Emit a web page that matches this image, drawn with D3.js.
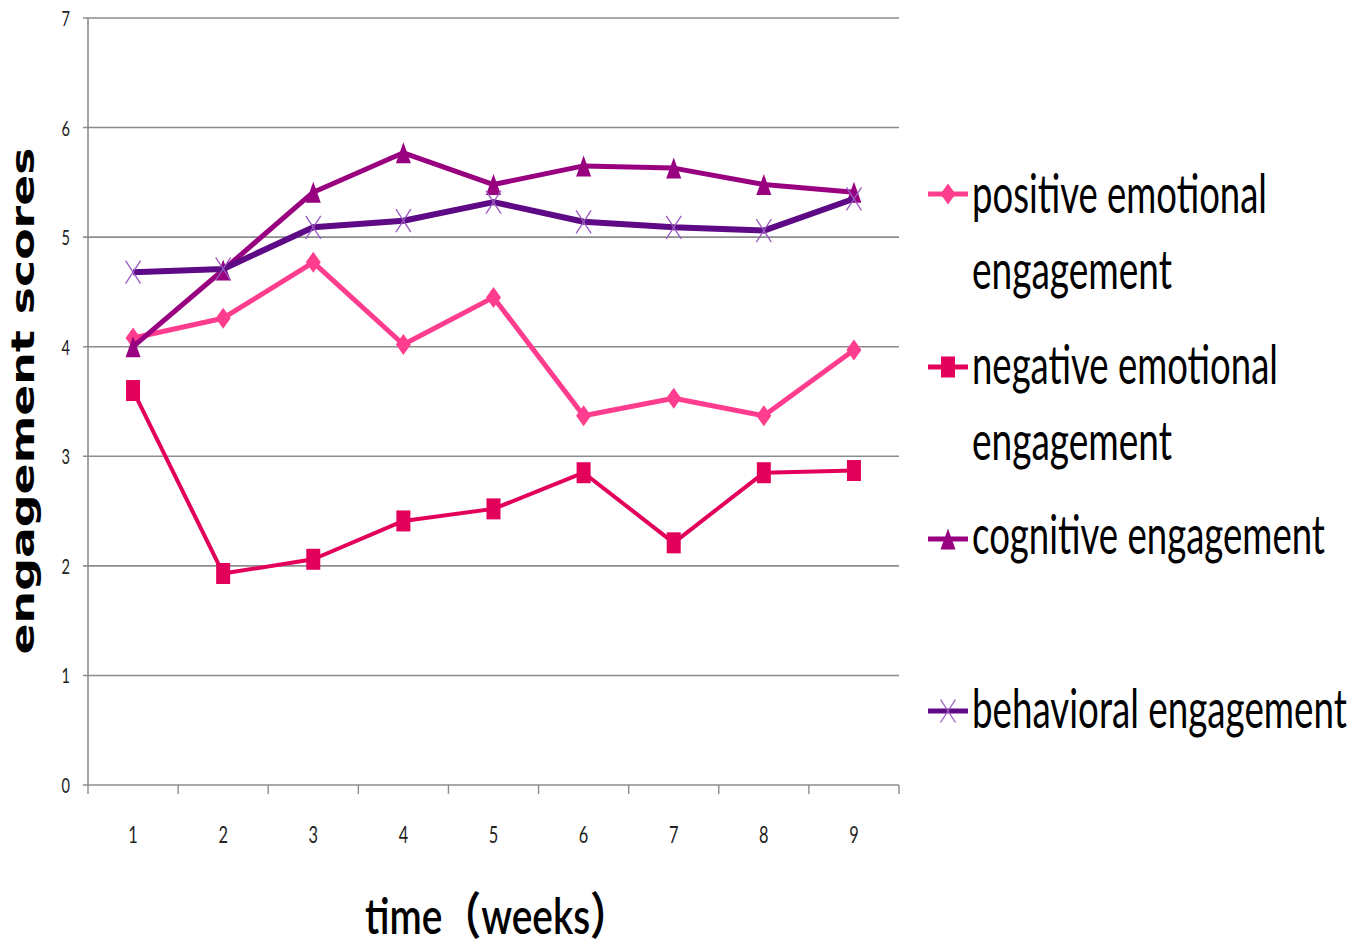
<!DOCTYPE html>
<html>
<head>
<meta charset="utf-8">
<script src="https://cdn.jsdelivr.net/npm/d3@7"></script>
<style>
  html, body { margin: 0; padding: 0; background: #fff; }
  svg { display: block; }
</style>
</head>
<body>
<svg id="chart" width="1354" height="947"></svg>
<script>
// Weekly engagement scores, weeks 1–9
const weeks = ["1", "2", "3", "4", "5", "6", "7", "8", "9"];
const yTicks = [0, 1, 2, 3, 4, 5, 6, 7];

const positiveEmotional = [4.08, 4.26, 4.77, 4.02, 4.45, 3.37, 3.53, 3.37, 3.97];
const negativeEmotional = [3.60, 1.93, 2.06, 2.41, 2.52, 2.85, 2.21, 2.85, 2.87];
const cognitive         = [4.00, 4.70, 5.41, 5.77, 5.48, 5.65, 5.63, 5.48, 5.41];
const behavioral        = [4.68, 4.71, 5.09, 5.15, 5.32, 5.14, 5.09, 5.06, 5.35];

const seriesNames = [
  ["positive emotional", "engagement"],
  ["negative emotional", "engagement"],
  ["cognitive engagement"],
  ["behavioral engagement"]
];

const series = [
  { lines: seriesNames[0], values: positiveEmotional, color: "#ff3d8e", marker: "diamond",  markerColor: "#ff3d8e", width: 5 },
  { lines: seriesNames[1], values: negativeEmotional, color: "#e2005a", marker: "square",   markerColor: "#e2005a", width: 4 },
  { lines: seriesNames[2], values: cognitive,         color: "#990080", marker: "triangle", markerColor: "#990080", width: 5 },
  { lines: seriesNames[3], values: behavioral,        color: "#5e0a86", marker: "cross",    markerColor: "#9a5ac0", width: 6 }
];

const svg = d3.select("#chart");
const plot = { left: 88, right: 899, top: 18, bottom: 785 };

const x = d3.scaleBand().domain(weeks).range([plot.left, plot.right]);
const y = d3.scaleLinear().domain([0, 7]).range([plot.bottom, plot.top]);
const cx = d => x(d) + x.bandwidth() / 2;

const gridColor = "#8c8c8c";
const textFont = "Lato, 'Open Sans', 'Liberation Sans', sans-serif";

// Place a text at (px, py), squeezed horizontally so it spans `width` pixels
function condensedText(parent, str, px, py, width, opts) {
  const t = parent.append("text")
    .attr("font-family", opts.family || textFont)
    .attr("font-size", opts.size)
    .attr("font-weight", opts.weight || "normal")
    .attr("fill", opts.fill || "#000")
    .attr("text-anchor", opts.anchor || "start")
    .text(str);
  const natural = t.node().getComputedTextLength();
  const sx = natural > 0 ? width / natural : 1;
  t.attr("transform", `translate(${px},${py}) ${opts.rotate ? `rotate(${opts.rotate})` : ""} scale(${sx},1)`);
  return t;
}

// Horizontal gridlines with short left ticks
svg.append("g").selectAll("line")
  .data(yTicks)
  .join("line")
  .attr("x1", plot.left - 5)
  .attr("x2", plot.right)
  .attr("y1", d => y(d))
  .attr("y2", d => y(d))
  .attr("stroke", gridColor)
  .attr("stroke-width", 1.6);

// Vertical axis line
svg.append("line")
  .attr("x1", plot.left).attr("x2", plot.left)
  .attr("y1", y(7)).attr("y2", y(0))
  .attr("stroke", gridColor).attr("stroke-width", 1.6);

// Category boundary ticks below the x axis
const boundaries = weeks.map(w => x(w)).concat([plot.right]);
svg.append("g").selectAll("line")
  .data(boundaries)
  .join("line")
  .attr("x1", d => d).attr("x2", d => d)
  .attr("y1", y(0)).attr("y2", y(0) + 9)
  .attr("stroke", gridColor).attr("stroke-width", 1.4);

// Y tick labels
const yLabels = svg.append("g");
yTicks.forEach(v => {
  condensedText(yLabels, String(v), 70, y(v) + 8, 8.5, { size: 21, anchor: "end", fill: "#222" });
});

// X tick labels
const xLabels = svg.append("g");
weeks.forEach(w => {
  condensedText(xLabels, w, cx(w), 843, 9.5, { size: 24, anchor: "middle", fill: "#222" });
});

// Axis titles
condensedText(svg, "engagement scores", 34, 401, 507, {
  family: "'DejaVu Sans', Verdana, sans-serif", weight: "bold", size: 32, anchor: "middle", rotate: -90
});

condensedText(svg, "time（weeks）", 365, 934, 264, {
  family: "Lato, 'Noto Sans CJK SC', sans-serif", weight: "600", size: 50
});

// Marker shapes, slightly taller than wide
function markerPath(type, w, h) {
  const hw = w / 2, hh = h / 2;
  switch (type) {
    case "diamond":  return `M0,${-hh}L${hw},0L0,${hh}L${-hw},0Z`;
    case "square":   return `M${-hw},${-hh}H${hw}V${hh}H${-hw}Z`;
    case "triangle": return `M0,${-hh}L${hw},${hh}L${-hw},${hh}Z`;
    case "cross":    return `M${-hw},${-hh}L${hw},${hh}M${hw},${-hh}L${-hw},${hh}`;
  }
}
const markerSize = {
  diamond: [15, 21],
  square: [14, 21],
  triangle: [15, 21],
  cross: [15, 23]
};

function drawMarker(g, s, px, py) {
  const [w, h] = markerSize[s.marker];
  const p = g.append("path")
    .attr("d", markerPath(s.marker, w, h))
    .attr("transform", `translate(${px},${py})`);
  if (s.marker === "cross") {
    p.attr("fill", "none").attr("stroke", s.markerColor).attr("stroke-width", 1.3);
  } else {
    p.attr("fill", s.markerColor);
  }
}

const line = d3.line()
  .x((d, i) => cx(weeks[i]))
  .y(d => y(d));

// Series lines and markers
series.forEach(s => {
  const g = svg.append("g");
  g.append("path")
    .datum(s.values)
    .attr("d", line)
    .attr("fill", "none")
    .attr("stroke", s.color)
    .attr("stroke-width", s.width)
    .attr("stroke-linejoin", "round");
  s.values.forEach((v, i) => drawMarker(g, s, cx(weeks[i]), y(v)));
});

// Legend
const legendRows = [
  { markerY: 194, baselines: [213, 289], widths: [295, 200] },
  { markerY: 367, baselines: [384, 460], widths: [306, 200] },
  { markerY: 539, baselines: [554],      widths: [353] },
  { markerY: 711, baselines: [728],      widths: [375] }
];

series.forEach((s, i) => {
  const row = legendRows[i];
  const g = svg.append("g");
  g.append("line")
    .attr("x1", 928).attr("x2", 968)
    .attr("y1", row.markerY).attr("y2", row.markerY)
    .attr("stroke", s.color)
    .attr("stroke-width", 5);
  drawMarker(g, s, 948, row.markerY);
  s.lines.forEach((t, j) => {
    condensedText(g, t, 972, row.baselines[j], row.widths[j], { size: 54 });
  });
});
</script>
</body>
</html>
